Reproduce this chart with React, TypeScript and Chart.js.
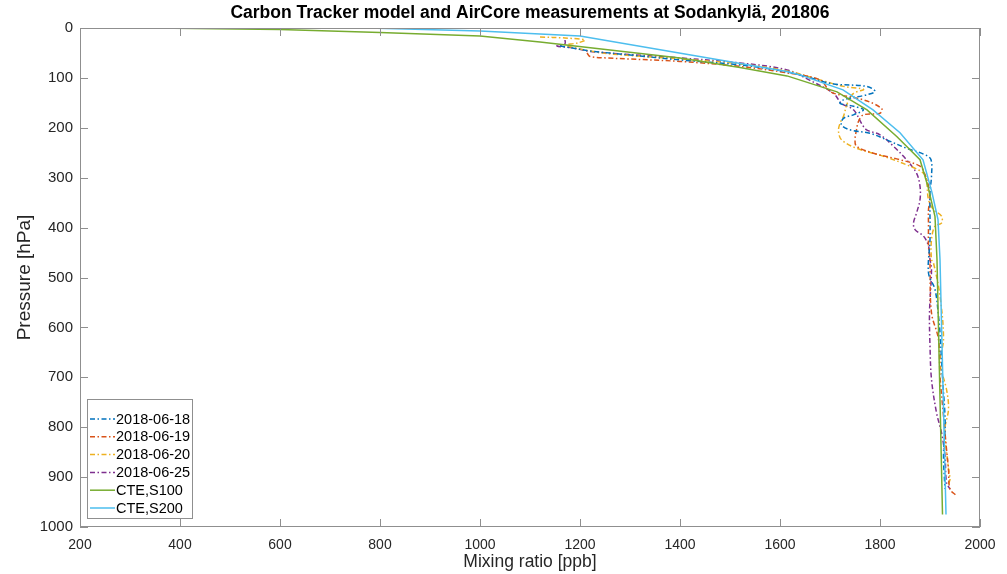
import React, { useEffect, useRef } from "react";
import { Chart, registerables } from "chart.js";

Chart.register(...registerables);

// ---------- data ----------
const xTickValues = [200, 400, 600, 800, 1000, 1200, 1400, 1600, 1800, 2000];
const yTickValues = [0, 100, 200, 300, 400, 500, 600, 700, 800, 900, 1000];

const seriesLabels = ["2018-06-18", "2018-06-19", "2018-06-20", "2018-06-25", "CTE,S100", "CTE,S200"];
const seriesColors = ["#0072BD", "#D95319", "#EDB120", "#7E2F8E", "#77AC30", "#4DBEEE"];

const x0618 = [1160, 1190, 1220, 1300, 1400, 1520, 1614, 1660, 1707, 1773, 1790, 1773, 1727, 1720, 1747, 1767, 1747, 1727, 1723, 1740, 1780, 1813, 1853, 1890, 1902, 1903, 1900, 1900, 1897, 1910, 1917, 1920, 1925, 1930, 1930, 1927, 1930];
const p0618 = [36, 41, 46, 54, 64, 74, 88, 100, 112, 117, 127, 134, 144, 151, 157, 164, 174, 181, 194, 204, 211, 224, 241, 254, 264, 297, 330, 424, 491, 524, 577, 611, 700, 777, 804, 857, 924];

const x0619 = [1214, 1220, 1253, 1400, 1520, 1614, 1680, 1700, 1720, 1767, 1803, 1800, 1767, 1757, 1753, 1750, 1753, 1787, 1840, 1880, 1890, 1897, 1900, 1897, 1897, 1897, 1900, 1900, 1903, 1917, 1920, 1927, 1933, 1937, 1940, 1953];
const p0619 = [50, 57, 60, 67, 77, 90, 104, 127, 134, 144, 161, 171, 174, 187, 204, 224, 237, 251, 264, 277, 294, 317, 344, 364, 397, 437, 464, 477, 571, 624, 697, 777, 844, 884, 924, 937];

const x0620 = [1120, 1170, 1210, 1195, 1170, 1190, 1220, 1260, 1400, 1520, 1614, 1680, 1727, 1767, 1747, 1735, 1727, 1720, 1717, 1723, 1753, 1807, 1860, 1887, 1893, 1897, 1907, 1923, 1923, 1910, 1903, 1903, 1907, 1920, 1927, 1920, 1933, 1937, 1930, 1937, 1940, 1936];
const p0620 = [18, 20, 24, 30, 34, 40, 46, 52, 62, 72, 86, 104, 117, 123, 131, 150, 177, 191, 207, 224, 241, 257, 277, 291, 304, 344, 364, 377, 391, 397, 424, 464, 471, 537, 624, 671, 724, 764, 804, 884, 905, 915];

const x0625 = [1170, 1170, 1154, 1187, 1220, 1253, 1400, 1520, 1614, 1660, 1707, 1723, 1747, 1763, 1773, 1800, 1827, 1853, 1873, 1880, 1880, 1873, 1867, 1870, 1887, 1897, 1900, 1903, 1899, 1900, 1903, 1913, 1923, 1930, 1933, 1940];
const p0625 = [24, 32, 36, 40, 47, 50, 60, 70, 84, 105, 131, 151, 164, 191, 204, 214, 237, 264, 291, 317, 344, 371, 391, 404, 417, 437, 464, 484, 571, 637, 704, 771, 811, 857, 911, 924];

const xS100 = [346, 600, 800, 1000, 1120, 1400, 1520, 1614, 1714, 1774, 1834, 1880, 1896, 1910, 1914, 1925];
const pS100 = [0, 3, 9, 16, 28, 60, 79, 96, 128, 164, 218, 264, 318, 378, 464, 975];

const xS200 = [776, 1000, 1120, 1200, 1614, 1640, 1726, 1786, 1840, 1886, 1904, 1916, 1920, 1932];
const pS200 = [0, 6, 12, 16, 87, 94, 124, 164, 210, 264, 330, 384, 464, 975];

const titleText = "Carbon Tracker model and AirCore measurements at Sodankylä, 201806";
const xTitle = "Mixing ratio [ppb]";
const yTitle = "Pressure [hPa]";

const DASHDOT = [5, 2.5, 1.5, 2.5];
const FONT = "'Liberation Sans', Arial, Helvetica, sans-serif";
const AXIS = "#8f8f8f";
const TEXT = "#262626";

const pts = (xs: number[], ps: number[]) => xs.map((x, i) => ({ x, y: ps[i] }));

const framePlugin = {
  id: "frame",
  afterDraw(chart: any) {
    const { ctx, chartArea: a, scales } = chart;
    ctx.save();
    // box
    ctx.strokeStyle = AXIS;
    ctx.lineWidth = 1;
    ctx.setLineDash([]);
    ctx.strokeRect(Math.round(a.left) + 0.5, Math.round(a.top) + 0.5, Math.round(a.width) - 1, Math.round(a.height) - 1);
    const T = 8;
    ctx.beginPath();
    xTickValues.forEach((v) => {
      const px = Math.round(scales.x.getPixelForValue(v)) + 0.5;
      ctx.moveTo(px, a.bottom);
      ctx.lineTo(px, a.bottom - T);
      ctx.moveTo(px, a.top);
      ctx.lineTo(px, a.top + T);
    });
    yTickValues.forEach((v) => {
      const py = Math.round(scales.y.getPixelForValue(v)) + 0.5;
      ctx.moveTo(a.left, py);
      ctx.lineTo(a.left + T, py);
      ctx.moveTo(a.right, py);
      ctx.lineTo(a.right - T, py);
    });
    ctx.stroke();

    // title
    ctx.fillStyle = "#000";
    ctx.font = `bold 17.5px ${FONT}`;
    ctx.textAlign = "center";
    ctx.textBaseline = "middle";
    ctx.fillText(titleText, (a.left + a.right) / 2, 13);

    // legend
    const lx = a.left + 7, ly = 399, lw = 105, lh = 119;
    ctx.fillStyle = "#fff";
    ctx.fillRect(lx, ly, lw, lh);
    ctx.strokeStyle = AXIS;
    ctx.lineWidth = 1;
    ctx.strokeRect(lx + 0.5, ly + 0.5, lw, lh);
    ctx.font = `14.5px ${FONT}`;
    ctx.textAlign = "left";
    ctx.textBaseline = "middle";
    chart.data.datasets.forEach((ds: any, i: number) => {
      const y = ly + 20 + i * 17.8;
      ctx.strokeStyle = ds.borderColor;
      ctx.lineWidth = 1.5;
      ctx.setLineDash(ds.borderDash || []);
      ctx.beginPath();
      ctx.moveTo(lx + 3, y);
      ctx.lineTo(lx + 28, y);
      ctx.stroke();
      ctx.setLineDash([]);
      ctx.fillStyle = "#000";
      ctx.fillText(ds.label, lx + 29, y + 0.5);
    });
    ctx.restore();
  },
};

export default function App() {
  const ref = useRef<HTMLCanvasElement | null>(null);
  useEffect(() => {
    document.body.style.margin = "0";
    const xs = [x0618, x0619, x0620, x0625, xS100, xS200];
    const ps = [p0618, p0619, p0620, p0625, pS100, pS200];
    const datasets = seriesLabels.map((label, i) => {
      const air = i < 4;
      return {
        label,
        data: pts(xs[i], ps[i]),
        borderColor: seriesColors[i],
        backgroundColor: seriesColors[i],
        borderWidth: 1.5,
        borderDash: air ? DASHDOT : [],
        pointRadius: 0,
        showLine: true,
        tension: air ? 0.35 : 0,
        order: air ? 2 : 1,
        fill: false,
      };
    });
    const chart = new Chart(ref.current as HTMLCanvasElement, {
      type: "scatter",
      data: { datasets },
      plugins: [framePlugin],
      options: {
        responsive: false,
        animation: false,
        layout: { padding: { top: 28, right: 27, bottom: 0, left: 0 } },
        plugins: { legend: { display: false }, tooltip: { enabled: false }, title: { display: false } },
        scales: {
          x: {
            type: "linear",
            min: 200,
            max: 2000,
            grid: { display: false, drawTicks: false },
            border: { display: false },
            afterBuildTicks: (s: any) => { s.ticks = xTickValues.map((v) => ({ value: v })); },
            afterFit: (s: any) => { s.height = 47; },
            ticks: { color: TEXT, font: { family: FONT, size: 14 }, padding: 10, maxRotation: 0, autoSkip: false, callback: (v: any) => String(v) },
            title: { display: true, text: xTitle, color: TEXT, font: { family: FONT, size: 17.5 }, padding: { top: 0, bottom: 1 } },
          },
          y: {
            type: "linear",
            reverse: true,
            min: 0,
            max: 1000,
            grid: { display: false, drawTicks: false },
            border: { display: false },
            afterBuildTicks: (s: any) => { s.ticks = yTickValues.map((v) => ({ value: v })); },
            afterFit: (s: any) => { s.width = 80; },
            ticks: { color: TEXT, font: { family: FONT, size: 15 }, padding: 7, autoSkip: false, callback: (v: any) => String(v) },
            title: { display: true, text: yTitle, color: TEXT, font: { family: FONT, size: 19 }, padding: { top: 13, bottom: 0 } },
          },
        },
      } as any,
    });
    return () => chart.destroy();
  }, []);
  return (
    <div style={{ width: 1007, height: 574 }}>
      <canvas ref={ref} width={1007} height={574} style={{ display: "block" }} />
    </div>
  );
}
